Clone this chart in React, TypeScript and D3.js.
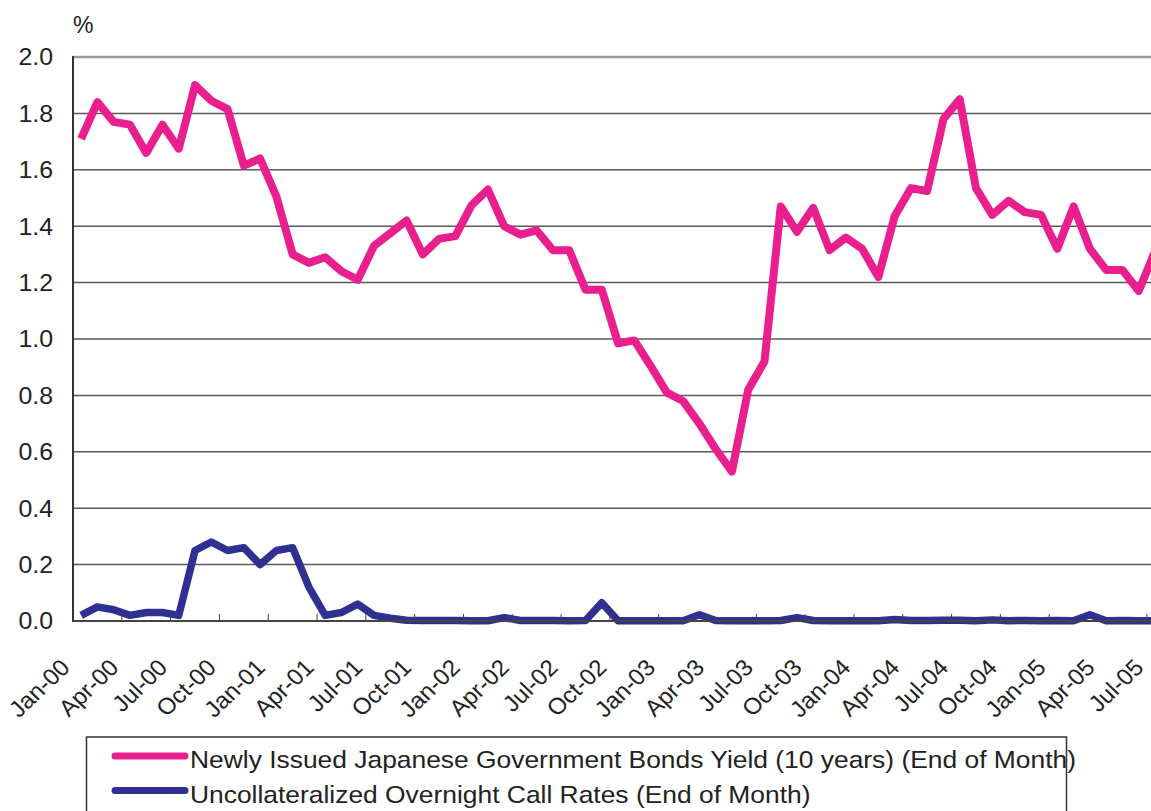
import * as d3 from "d3";

// month categories Jan-00 .. Jul-05
const months: Date[] = d3.timeMonths(new Date(2000, 0, 1), new Date(2005, 7, 1));
const fmt = d3.timeFormat("%b-%y");
const categories: string[] = months.map((d) => fmt(d));

// Newly Issued JGB yield (10 years), end of month, %
const jgbYield: number[] = [
  1.71, 1.84, 1.77, 1.76, 1.66, 1.76, 1.675, 1.9, 1.845, 1.815,
  1.615, 1.64, 1.505, 1.3, 1.27, 1.29, 1.24, 1.21, 1.33, 1.375,
  1.42, 1.3, 1.355, 1.365, 1.475, 1.53, 1.4, 1.37, 1.385, 1.315,
  1.315, 1.175, 1.175, 0.985, 0.995, 0.905, 0.81, 0.78, 0.7, 0.61,
  0.53, 0.82, 0.92, 1.47, 1.38, 1.465, 1.315, 1.36, 1.32, 1.22,
  1.435, 1.535, 1.525, 1.78, 1.85, 1.535, 1.44, 1.49, 1.45, 1.44,
  1.32, 1.47, 1.32, 1.245, 1.245, 1.17, 1.31,
];

// Uncollateralized overnight call rates, end of month, %
const callRate: number[] = [
  0.02, 0.05, 0.04, 0.02, 0.03, 0.03, 0.02, 0.25, 0.28, 0.25,
  0.26, 0.2, 0.25, 0.26, 0.12, 0.02, 0.03, 0.06, 0.02, 0.01,
  0.003, 0.002, 0.002, 0.002, 0.001, 0.001, 0.012, 0.002, 0.002, 0.002,
  0.001, 0.002, 0.065, 0.001, 0.001, 0.001, 0.001, 0.001, 0.022, 0.002,
  0.001, 0.001, 0.001, 0.002, 0.012, 0.002, 0.001, 0.001, 0.001, 0.001,
  0.005, 0.002, 0.002, 0.003, 0.003, 0.001, 0.004, 0.001, 0.002, 0.001,
  0.002, 0.001, 0.022, 0.001, 0.002, 0.001, 0.001,
];

const yTicks: number[] = [0, 0.2, 0.4, 0.6, 0.8, 1.0, 1.2, 1.4, 1.6, 1.8, 2.0];

const seriesNames: string[] = [
  "Newly Issued Japanese Government Bonds Yield (10 years) (End of Month)",
  "Uncollateralized Overnight Call Rates (End of Month)",
];
const seriesColors: string[] = ["#ea1f8e", "#2e3192"];

const W = 1151;
const H = 811;
const font = "'Liberation Sans', Arial, Helvetica, sans-serif";
// the original's lettering is a little wider than Arial
const sx = 1.1;

export default function App() {
  const left = 73;
  const step = 16.27;
  const x = d3
    .scaleBand<string>()
    .domain(categories)
    .range([left, left + categories.length * step])
    .padding(0);
  const y = d3.scaleLinear().domain([0, 2]).range([621, 57]);
  const right = left + categories.length * step;

  const line = d3
    .line<number>()
    .x((_, i) => (x(categories[i]) as number) + x.bandwidth() / 2)
    .y((d) => y(d));

  const tickIdx = categories.map((_, i) => i).filter((i) => i > 0 && i % 3 === 0);
  const labelIdx = categories.map((_, i) => i).filter((i) => i % 3 === 0);

  return (
    <svg
      width={W}
      height={H}
      style={{ position: "absolute", left: 0, top: 0, background: "#fff" }}
      fontFamily={font}
    >
      {/* gridlines */}
      {yTicks.map((t) =>
        t === 0 ? null : (
          <line
            key={t}
            x1={left}
            x2={right}
            y1={y(t)}
            y2={y(t)}
            stroke={t === 2 ? "#939ba2" : "#5a5a5a"}
            strokeWidth={t === 2 ? 2.5 : 1.5}
          />
        )
      )}
      {/* y tick labels */}
      {yTicks.map((t) => (
        <text
          key={"l" + t}
          transform={`translate(53,${y(t)}) scale(1.06,1)`}
          dy="0.36em"
          textAnchor="end"
          fontSize={23.5}
          fill="#222"
        >
          {t.toFixed(1)}
        </text>
      ))}
      <text x={73} y={33} fontSize={23} fill="#222">
        %
      </text>

      {/* series */}
      <path d={line(callRate) || ""} fill="none" stroke={seriesColors[1]} strokeWidth={7.5} strokeLinejoin="round" />
      <path d={line(jgbYield) || ""} fill="none" stroke={seriesColors[0]} strokeWidth={8} strokeLinejoin="round" />

      {/* axes */}
      <line x1={left} x2={left} y1={56} y2={622} stroke="#333" strokeWidth={2} />
      <line x1={left} x2={right} y1={621} y2={621} stroke="#444" strokeWidth={2} />
      {tickIdx.map((i) => (
        <line
          key={"t" + i}
          x1={x(categories[i]) as number}
          x2={x(categories[i]) as number}
          y1={621}
          y2={614}
          stroke="#444"
          strokeWidth={1}
        />
      ))}
      {labelIdx.map((i) => {
        const cx = (x(categories[i]) as number) + x.bandwidth() / 2 - 10;
        return (
          <text
            key={"x" + i}
            transform={`translate(${cx},669) scale(1.05,1) rotate(-45)`}
            textAnchor="end"
            fontSize={23}
            fill="#222"
          >
            {categories[i]}
          </text>
        );
      })}

      {/* legend */}
      <rect x={86.5} y={737} width={980} height={100} fill="none" stroke="#333" strokeWidth={1.5} />
      {seriesNames.map((name, i) => (
        <g key={name}>
          <line
            x1={115}
            x2={185}
            y1={756 + i * 34.5}
            y2={756 + i * 34.5}
            stroke={seriesColors[i]}
            strokeWidth={7}
            strokeLinecap="round"
          />
          <text
            transform={`translate(190,${767.5 + i * 35}) scale(${sx},1)`}
            fontSize={24}
            fill="#222"
          >
            {name}
          </text>
        </g>
      ))}
    </svg>
  );
}
